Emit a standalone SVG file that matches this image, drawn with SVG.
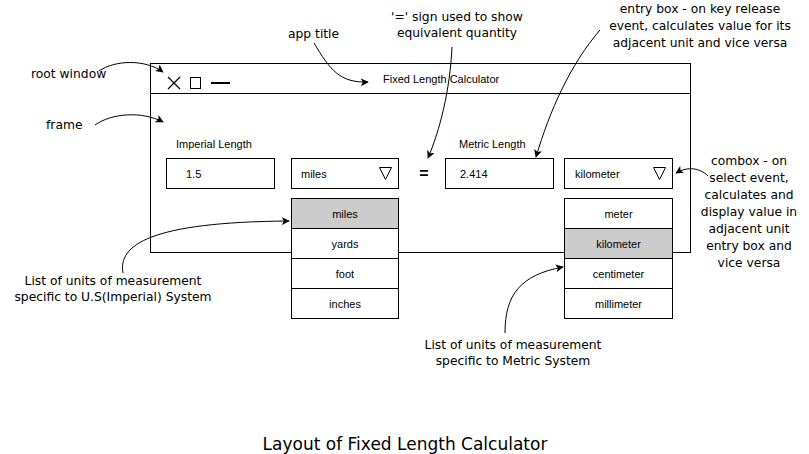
<svg xmlns="http://www.w3.org/2000/svg" width="809" height="454" viewBox="0 0 809 454">
<style>
.ui{font-family:"Liberation Sans",Arial,sans-serif;font-size:11px;fill:#000}
.ann{font-family:"Comic Sans MS","DejaVu Sans",sans-serif;font-size:12.3px;fill:#000}
.cap{font-family:"Comic Sans MS","DejaVu Sans",sans-serif;font-size:17px;fill:#000}
.box{fill:#fff;stroke:#000;stroke-width:1}
.sel{fill:#ccc;stroke:#000;stroke-width:1}
.con{fill:none;stroke:#000;stroke-width:1;marker-end:url(#ah)}
</style>
<defs>
<marker id="ah" viewBox="0 0 10 10" refX="9" refY="5" markerWidth="8" markerHeight="8" markerUnits="userSpaceOnUse" orient="auto">
<path d="M0,0 L10,5 L0,10 L2.5,5 Z" fill="#000"/>
</marker>
</defs>
<rect width="809" height="454" fill="#fff"/>

<g id="root-window">
<rect class="box" x="150.5" y="63.5" width="540" height="189"/>
<line x1="150.5" y1="93.5" x2="690.5" y2="93.5" stroke="#000"/>
<path d="M168,77 L180,89 M180,77 L168,89" stroke="#000" stroke-width="1.2" fill="none"/>
<rect x="190.5" y="77.5" width="10" height="11" fill="none" stroke="#000"/>
<line x1="211" y1="83" x2="230" y2="83" stroke="#000" stroke-width="2"/>
<text class="ui" x="383" y="83">Fixed Length Calculator</text>
</g>

<g id="frame">
<text class="ui" x="176" y="148">Imperial Length</text>
<text class="ui" x="459" y="148">Metric Length</text>
<text x="424" y="179" text-anchor="middle" style="font-family:'Liberation Sans',Arial,sans-serif;font-size:16px;font-weight:bold">=</text>
</g>

<g id="entry-imperial">
<rect class="box" x="166.5" y="158.5" width="108" height="30"/>
<text class="ui" x="186" y="178">1.5</text>
</g>
<g id="combo-imperial">
<rect class="box" x="291.5" y="158.5" width="107" height="30"/>
<text class="ui" x="301" y="178">miles</text>
<path d="M379.5,167.5 L391.5,167.5 L385.5,179.5 Z" fill="none" stroke="#000"/>
</g>
<g id="entry-metric">
<rect class="box" x="445.5" y="158.5" width="108" height="30"/>
<text class="ui" x="460" y="178">2.414</text>
</g>
<g id="combo-metric">
<rect class="box" x="564.5" y="158.5" width="108" height="30"/>
<text class="ui" x="575" y="178">kilometer</text>
<path d="M653.5,167.5 L665.5,167.5 L659.5,179.5 Z" fill="none" stroke="#000"/>
</g>

<g id="list-imperial">
<rect class="sel" x="291.5" y="198.5" width="107" height="30"/>
<rect class="box" x="291.5" y="228.5" width="107" height="30"/>
<rect class="box" x="291.5" y="258.5" width="107" height="30"/>
<rect class="box" x="291.5" y="288.5" width="107" height="30"/>
<text class="ui" x="345" y="218" text-anchor="middle">miles</text>
<text class="ui" x="345" y="248" text-anchor="middle">yards</text>
<text class="ui" x="345" y="278" text-anchor="middle">foot</text>
<text class="ui" x="345" y="308" text-anchor="middle">inches</text>
</g>

<g id="list-metric">
<rect class="box" x="564.5" y="198.5" width="108" height="30"/>
<rect class="sel" x="564.5" y="228.5" width="108" height="30"/>
<rect class="box" x="564.5" y="258.5" width="108" height="30"/>
<rect class="box" x="564.5" y="288.5" width="108" height="30"/>
<text class="ui" x="618.5" y="218" text-anchor="middle">meter</text>
<text class="ui" x="618.5" y="248" text-anchor="middle">kilometer</text>
<text class="ui" x="618.5" y="278" text-anchor="middle">centimeter</text>
<text class="ui" x="618.5" y="308" text-anchor="middle">millimeter</text>
</g>

<g id="annotations">
<text class="ann" x="31" y="78">root window</text>
<text class="ann" x="46" y="129">frame</text>
<text class="ann" x="288" y="38">app title</text>
<text class="ann" text-anchor="middle"><tspan x="457" y="21">'=' sign used to show</tspan><tspan x="457" y="37">equivalent quantity</tspan></text>
<text class="ann" text-anchor="middle"><tspan x="700" y="13">entry box - on key release</tspan><tspan x="700" y="30">event, calculates value for its</tspan><tspan x="700" y="47">adjacent unit and vice versa</tspan></text>
<text class="ann" text-anchor="middle"><tspan x="749" y="165">combox - on</tspan><tspan x="749" y="182">select event,</tspan><tspan x="749" y="199">calculates and</tspan><tspan x="749" y="216">display value in</tspan><tspan x="749" y="233">adjacent unit</tspan><tspan x="749" y="250">entry box and</tspan><tspan x="749" y="267">vice versa</tspan></text>
<text class="ann" text-anchor="middle"><tspan x="113" y="285">List of units of measurement</tspan><tspan x="113" y="301">specific to U.S(Imperial) System</tspan></text>
<text class="ann" text-anchor="middle"><tspan x="513" y="349">List of units of measurement</tspan><tspan x="513" y="365">specific to Metric System</tspan></text>
<text class="cap" x="405" y="450" text-anchor="middle">Layout of Fixed Length Calculator</text>
</g>

<g id="connectors">
<path class="con" d="M99,71 C115,60 145,59 163,72"/>
<path class="con" d="M95,125 C112,113 142,111 163,122"/>
<path class="con" d="M314,43 C330,70 340,83 368,82"/>
<path class="con" d="M452,47 C450,90 440,130 428,158"/>
<path class="con" d="M600,30 C570,65 550,110 536,157"/>
<path class="con" d="M708,176 C700,168 688,166 676,173"/>
<path class="con" d="M123,273 C118,245 150,222 289,221"/>
<path class="con" d="M505,333 C505,295 520,275 563,267"/>
</g>
</svg>
